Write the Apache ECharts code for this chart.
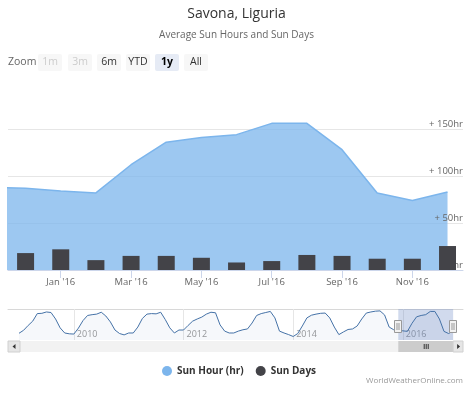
<!DOCTYPE html>
<html><head><meta charset="utf-8">
<script src="https://cdn.jsdelivr.net/npm/echarts@6/dist/echarts.min.js"></script>
<style>html,body{margin:0;padding:0;background:#fff}#c{width:473px;height:394px}</style>
</head><body><div id="c"></div>
<script>
// ---- data ----
const months = ["Nov '15","Dec '15","Jan '16","Feb '16","Mar '16","Apr '16","May '16","Jun '16","Jul '16","Aug '16","Sep '16","Oct '16","Nov '16","Dec '16"];
const sunHours = [88,87,84,82,112,136,141,144,156,156,128,82,74,83];
const sunDays = [null,3.6,4.4,2.1,3.0,3.0,2.6,1.6,1.9,3.2,3.0,2.4,2.4,5.1];
const xTickLabels = ["Jan '16","Mar '16","May '16","Jul '16","Sep '16","Nov '16"];
const yTicks = [0,50,100,150];

// navigator: monthly sun hours Jan 2009 .. Dec 2016
const navStartYear = 2009;
const nav2009 = [75,86,104,120,148,149,154,152,128,95,76,73];
const nav2010 = [72,94,122,141,144,146,153,139,117,87,74,69];
const nav2011 = [76,76,98,130,146,148,147,153,126,95,76,87];
const nav2012 = [87,104,120,128,135,146,153,151,106,83,76,76];
const nav2013 = [83,88,91,113,141,148,152,156,132,83,76,70];
const nav2014 = [63,74,102,132,142,146,149,150,132,98,70,80];
const nav2015 = [89,91,102,128,150,154,157,158,143,98,88,87];
const nav2016 = [84,82,112,136,141,144,156,156,128,82,74,83];
const navYearLabels = ['2010','2012','2014','2016'];
const selectionRange = ["Dec 2015","Dec 2016"];

const FONT = "'Open Sans', 'Noto Sans', sans-serif";
const navHours = [].concat(nav2009,nav2010,nav2011,nav2012,nav2013,nav2014,nav2015,nav2016);
const monthIdx = s => { const [mn, yr] = s.split(' '); return (parseInt(yr)-navStartYear)*12 + ['Jan','Feb','Mar','Apr','May','Jun','Jul','Aug','Sep','Oct','Nov','Dec'].indexOf(mn); };
const selStart = monthIdx(selectionRange[0]);
const selEnd = monthIdx(selectionRange[1]);
const navYearPos = navYearLabels.map(y => (parseInt(y)-navStartYear)*12);
const mainTickPos = xTickLabels.map(l => months.indexOf(l) - 1);

const chart = echarts.init(document.getElementById('c'), null, {renderer:'canvas'});

const hoursMax = 200;
const option = {
  animation: false,
  backgroundColor: '#fff',
  title: [
    {text: 'Savona, Liguria', left: 'center', top: 7, padding: 0,
     textStyle: {fontFamily: FONT, fontSize: 14, fontWeight: 'normal', color: '#333'}},
    {text: 'Average Sun Hours and Sun Days', left: 'center', top: 30, padding: 0,
     textStyle: {fontFamily: FONT, fontSize: 10, fontWeight: 'normal', color: '#666'}}
  ],
  legend: {
    data: ['Sun Hour (hr)','Sun Days'],
    left: 157, top: 361, icon: 'circle', itemWidth: 10, itemHeight: 10, itemGap: 12,
    textStyle: {fontFamily: FONT, fontSize: 10, fontWeight: 'bold', color: '#333'}
  },
  grid: [
    {left: 8, right: 10, top: 82, height: 188, containLabel: false},
    {left: 8, right: 10, top: 309, height: 31, containLabel: false}
  ],
  xAxis: [
    {type: 'value', gridIndex: 0, min: -0.5, max: 12.44,
     axisLine: {show: true, lineStyle: {color: '#ccd6eb'}},
     axisTick: {show: true, customValues: mainTickPos, length: 8, lineStyle: {color: '#ccd6eb'}},
     axisLabel: {customValues: mainTickPos, formatter: v => months[Math.round(v)+1] || '', margin: 7,
       fontFamily: FONT, fontSize: 9.5, color: '#666'},
     splitLine: {show: false}},
    {type: 'value', gridIndex: 1, min: -2.41, max: 97.16,
     axisLine: {show: false},
     axisTick: {show: true, inside: true, customValues: navYearPos, length: 31, lineStyle: {color: '#e6e6e6'}},
     axisLabel: {inside: true, customValues: navYearPos, formatter: v => String(navStartYear + Math.round(v/12)),
       align: 'left', verticalAlign: 'bottom', margin: 1, padding: [0,0,0,3],
       fontFamily: FONT, fontSize: 9, color: '#999'},
     splitLine: {show: false}},
    {type: 'value', gridIndex: 1, position: 'top', min: -2.41, max: 97.16,
     axisLine: {show: true, lineStyle: {color: '#d8d8d8'}},
     axisTick: {show: false}, axisLabel: {show: false}, splitLine: {show: false}}
  ],
  yAxis: [
    {type: 'value', gridIndex: 0, min: 0, max: hoursMax, interval: 50, position: 'right',
     axisLine: {show: false}, axisTick: {show: false}, axisLabel: {show: false},
     splitLine: {show: true, lineStyle: {color: ['#e6e6e6','#e6e6e6','#e6e6e6','#e6e6e6','rgba(0,0,0,0)']}}},
    {type: 'value', gridIndex: 0, min: 0, max: hoursMax, interval: 50, position: 'right', z: 3,
     axisLine: {show: false}, axisTick: {show: false}, splitLine: {show: false},
     axisLabel: {inside: true, margin: 0, verticalAlign: 'bottom',
       formatter: v => yTicks.indexOf(v) >= 0 ? '+ ' + v + 'hr' : '',
       fontFamily: FONT, fontSize: 9.5, color: '#666'}},
    {type: 'value', gridIndex: 0, min: 0, max: 40, show: false},
    {type: 'value', gridIndex: 1, min: 50, max: 165, show: false}
  ],
  series: [
    {name: 'Sun Hour (hr)', type: 'line', xAxisIndex: 0, yAxisIndex: 0, z: 2,
     data: months.map((m,k) => [k-1, sunHours[k]]),
     showSymbol: false, smooth: false,
     itemStyle: {color: '#7cb5ec'},
     lineStyle: {color: '#7cb5ec', width: 1.5},
     areaStyle: {color: '#7cb5ec', opacity: 0.75}},
    {name: 'Sun Days', type: 'bar', xAxisIndex: 0, yAxisIndex: 2, z: 5,
     data: months.map((m,k) => [k-1, sunDays[k]]).filter(d => d[1] != null),
     barWidth: 17, itemStyle: {color: '#434348'}},
    {name: 'nav', type: 'line', xAxisIndex: 1, yAxisIndex: 3, z: 2,
     data: navHours.map((v,k) => [k, v]),
     showSymbol: false,
     lineStyle: {color: '#4572a7', width: 1},
     areaStyle: {color: '#4572a7', opacity: 0.05},
     markArea: {silent: true, itemStyle: {color: 'rgba(102,133,194,0.3)'},
       data: [[{xAxis: selStart}, {xAxis: selEnd}]]}}
  ]
};
chart.setOption(option);

// ---- UI chrome: range selector, navigator handles, scrollbar, credits ----
const px0 = chart.convertToPixel({xAxisIndex: 1}, selStart);
const px1 = chart.convertToPixel({xAxisIndex: 1}, selEnd);
const btns = [
  {t:'1m', x:38, c:'#cccccc'}, {t:'3m', x:68, c:'#cccccc'}, {t:'6m', x:97, c:'#333'},
  {t:'YTD', x:126, c:'#333'}, {t:'1y', x:155, c:'#000', sel:true}, {t:'All', x:184, c:'#333'}
];
const g = [];
g.push({type:'text', x: 8, y: 62.5, style:{text:'Zoom', fontFamily: FONT, fontSize: 10.5, fill:'#666', textVerticalAlign:'middle'}});
btns.forEach(b => {
  g.push({type:'rect', shape:{x:b.x, y:54, width:24, height:17, r:2}, style:{fill: b.sel ? '#e6ebf5' : '#f7f7f7'}});
  g.push({type:'text', x: b.x+12, y: 62.5, style:{text:b.t, fontFamily: FONT, fontSize: 10.5, fontWeight: b.sel?'bold':'normal', fill:b.c, textAlign:'center', textVerticalAlign:'middle'}});
});
// navigator handles
[px0, px1].forEach(x => {
  g.push({type:'rect', z: 10, shape:{x: Math.round(x)-3.5, y:320.5, width:7, height:12}, style:{fill:'#f2f2f2', stroke:'#999', lineWidth:1}});
  g.push({type:'line', z: 11, shape:{x1: Math.round(x)-1, y1:323, x2: Math.round(x)-1, y2:330}, style:{stroke:'#999', lineWidth:1}});
  g.push({type:'line', z: 11, shape:{x1: Math.round(x)+1, y1:323, x2: Math.round(x)+1, y2:330}, style:{stroke:'#999', lineWidth:1}});
});
// scrollbar
g.push({type:'rect', shape:{x:8, y:341, width:455, height:11}, style:{fill:'#f2f2f2'}});
g.push({type:'rect', shape:{x:8, y:341, width:12, height:11}, style:{fill:'#e6e6e6', stroke:'#d0d0d0', lineWidth:1}});
g.push({type:'polygon', shape:{points:[[12.5,346.5],[15.5,344],[15.5,349]]}, style:{fill:'#333'}});
g.push({type:'rect', shape:{x:px0, y:341, width:px1-px0, height:11}, style:{fill:'#cccccc'}});
const mid = (px0+px1)/2;
[-2,0,2].forEach(d => g.push({type:'line', shape:{x1:mid+d+0.5, y1:344, x2:mid+d+0.5, y2:349}, style:{stroke:'#333', lineWidth:1}}));
g.push({type:'rect', shape:{x:px1, y:341, width:463-px1, height:11}, style:{fill:'#e6e6e6', stroke:'#d0d0d0', lineWidth:1}});
g.push({type:'polygon', shape:{points:[[px1+7,346.5],[px1+4,344],[px1+4,349]]}, style:{fill:'#333'}});
// credits
g.push({type:'text', x: 463, y: 381, style:{text:'WorldWeatherOnline.com', fontFamily: FONT, fontSize: 8, fill:'#999', textAlign:'right', textVerticalAlign:'middle'}});
chart.setOption({graphic: g});
</script>
</body></html>
